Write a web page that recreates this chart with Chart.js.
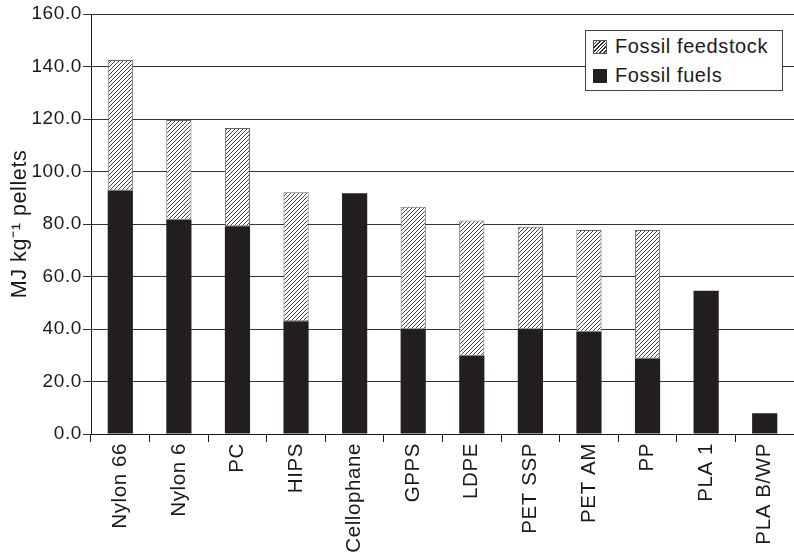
<!doctype html>
<html>

<head>
    <title>Fossil energy per kg pellets</title>
    <script src="https://cdn.jsdelivr.net/npm/chart.js"></script>
    <style>
        body {
            margin: 0;
            background-color: white;
            font-family: "Liberation Sans", Arial, sans-serif
        }

        #wrap {
            position: relative;
            width: 794px;
            height: 552px
        }

        #legend {
            position: absolute;
            left: 585px;
            top: 30px;
            width: 196px;
            height: 59px;
            border: 1px solid #444;
            background: white;
            color: #1a1a1a;
            font-size: 20px;
            letter-spacing: 0.6px
        }

        #legend div {
            position: absolute;
            left: 7px;
            height: 22px;
            line-height: 22px;
            white-space: nowrap
        }

        #legend span {
            display: inline-block;
            width: 14px;
            height: 14px;
            margin-right: 8px;
            vertical-align: -1px;
            box-sizing: border-box
        }
    </style>
</head>

<body>
    <div id="wrap">
        <canvas id="chart"></canvas>
        <div id="legend">
            <div style="top: 4px"><span style="border: 1px solid #555; background: repeating-linear-gradient(135deg, #fff 0 1.6px, #333 1.6px 2.6px)"></span>Fossil feedstock</div>
            <div style="top: 33px"><span style="background: #231f20"></span>Fossil fuels</div>
        </div>
    </div>
    <script>
        const categories = ['Nylon 66', 'Nylon 6', 'PC', 'HIPS', 'Cellophane', 'GPPS', 'LDPE', 'PET SSP', 'PET AM', 'PP', 'PLA 1', 'PLA B/WP']
        const fossilFuels = [92.8, 81.6, 79.1, 43.0, 91.7, 39.9, 29.8, 39.9, 39.0, 28.8, 54.6, 7.9]
        const fossilFeedstock = [49.7, 38.0, 37.5, 49.1, 0, 46.7, 51.5, 39.1, 38.7, 48.9, 0, 0]
        const yTicks = [0, 20, 40, 60, 80, 100, 120, 140, 160]

        // diagonal hatch for the feedstock part
        const tile = document.createElement('canvas')
        tile.width = 4
        tile.height = 4
        const tctx = tile.getContext('2d')
        tctx.fillStyle = '#fff'
        tctx.fillRect(0, 0, 4, 4)
        tctx.strokeStyle = '#2a2a2a'
        tctx.lineWidth = 0.9
        tctx.beginPath()
        tctx.moveTo(-1, 1); tctx.lineTo(1, -1)
        tctx.moveTo(0, 4); tctx.lineTo(4, 0)
        tctx.moveTo(3, 5); tctx.lineTo(5, 3)
        tctx.stroke()
        const hatch = tctx.createPattern(tile, 'repeat')

        const ink = '#1a1a1a'
        const font = { family: '"Liberation Sans", Arial, sans-serif' }

        // the printed labels are slightly tracked out
        const tracking = {
            id: 'tracking',
            beforeUpdate: c => { c.ctx.letterSpacing = '0.6px' },
            beforeDraw: c => { c.ctx.letterSpacing = '0.6px' }
        }

        new Chart(document.getElementById('chart'), {
            type: 'bar',
            plugins: [tracking],
            data: {
                labels: categories,
                datasets: [
                    {
                        label: 'Fossil fuels',
                        data: fossilFuels,
                        backgroundColor: '#231f20',
                        borderWidth: 0
                    },
                    {
                        label: 'Fossil feedstock',
                        data: fossilFeedstock,
                        backgroundColor: hatch,
                        borderColor: '#666',
                        borderWidth: 1,
                        borderSkipped: false
                    }
                ]
            },
            options: {
                responsive: true,
                maintainAspectRatio: false,
                animation: false,
                layout: { padding: { top: 14, right: 0, left: 0, bottom: 0 } },
                datasets: { bar: { barPercentage: 0.43, categoryPercentage: 1 } },
                scales: {
                    x: {
                        stacked: true,
                        grid: { drawOnChartArea: false, color: ink, tickLength: 8 },
                        border: { color: ink, width: 1 },
                        ticks: {
                            color: ink,
                            padding: 1,
                            minRotation: 90,
                            maxRotation: 90,
                            font: { ...font, size: 20.5 }
                        },
                        afterFit: s => { s.height = 118 }
                    },
                    y: {
                        stacked: true,
                        min: 0,
                        max: 160,
                        afterBuildTicks: s => { s.ticks = yTicks.map(v => ({ value: v })) },
                        grid: { color: '#333', tickLength: 8 },
                        border: { color: ink, width: 1 },
                        ticks: {
                            color: ink,
                            padding: 1,
                            font: { ...font, size: 19 },
                            callback: v => v.toFixed(1)
                        },
                        title: {
                            display: true,
                            text: 'MJ kg\u207B\u00B9 pellets',
                            color: ink,
                            padding: { top: 7, bottom: 0 },
                            font: { ...font, size: 21.5 }
                        },
                        afterFit: s => { s.width = 91 }
                    }
                },
                plugins: {
                    legend: { display: false },
                    tooltip: { enabled: false }
                }
            }
        })
    </script>
</body>

</html>
